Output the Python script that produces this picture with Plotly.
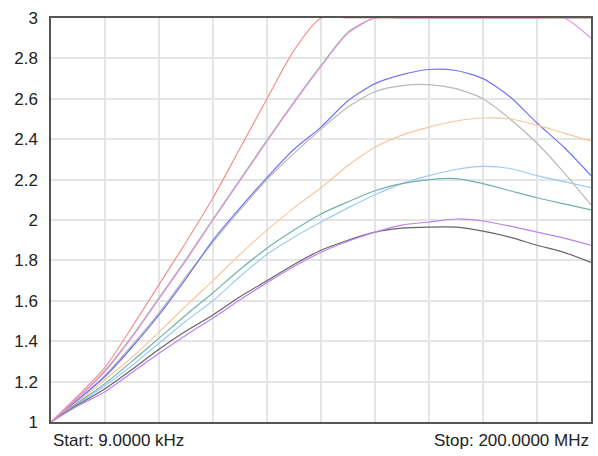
import plotly.graph_objects as go

# Sweep position in grid divisions (0 = 9 kHz start, 10 = 200 MHz stop)
sweep_div = [0, 0.5, 1, 1.5, 2, 2.5, 3, 3.5, 4, 4.5, 5, 5.5, 6, 6.5, 7, 7.5, 8, 8.5, 9, 9.5, 10]

red_vals    = [1.0, 1.13, 1.27, 1.47, 1.68, 1.89, 2.11, 2.355, 2.6, 2.84, 3.0, 3.0, 3.0, 3.0, 3.0, 3.0, 3.0, 3.0, 3.0, 3.0, 3.0]
green_vals  = [1.0, 1.12, 1.255, 1.425, 1.615, 1.805, 2.005, 2.2, 2.395, 2.585, 2.765, 2.93, 3.0, 3.0, 3.0, 3.0, 3.0, 3.0, 3.0, 3.0, 3.0]
pink_vals   = [1.0, 1.12, 1.25, 1.42, 1.61, 1.80, 2.0, 2.195, 2.39, 2.58, 2.76, 2.925, 3.0, 3.0, 3.0, 3.0, 3.0, 3.0, 3.0, 3.0, 2.9]
blue_vals   = [1.0, 1.11, 1.225, 1.37, 1.53, 1.71, 1.90, 2.06, 2.21, 2.35, 2.46, 2.59, 2.675, 2.72, 2.745, 2.74, 2.70, 2.61, 2.48, 2.36, 2.22]
gray_vals   = [1.0, 1.11, 1.23, 1.38, 1.54, 1.72, 1.89, 2.05, 2.20, 2.33, 2.45, 2.56, 2.635, 2.665, 2.67, 2.65, 2.60, 2.50, 2.38, 2.235, 2.075]
orange_vals = [1.0, 1.10, 1.21, 1.32, 1.445, 1.575, 1.70, 1.83, 1.95, 2.06, 2.16, 2.27, 2.36, 2.42, 2.46, 2.49, 2.505, 2.50, 2.47, 2.43, 2.39]
teal_vals   = [1.0, 1.095, 1.19, 1.30, 1.415, 1.53, 1.64, 1.755, 1.86, 1.95, 2.03, 2.09, 2.145, 2.18, 2.20, 2.205, 2.18, 2.145, 2.11, 2.08, 2.05]
ltblue_vals = [1.0, 1.09, 1.18, 1.28, 1.39, 1.50, 1.60, 1.72, 1.83, 1.915, 1.99, 2.06, 2.125, 2.18, 2.22, 2.25, 2.265, 2.255, 2.22, 2.19, 2.16]
black_vals  = [1.0, 1.085, 1.165, 1.26, 1.36, 1.45, 1.53, 1.62, 1.70, 1.78, 1.85, 1.90, 1.94, 1.96, 1.965, 1.965, 1.945, 1.915, 1.875, 1.84, 1.79]
purple_vals = [1.0, 1.08, 1.15, 1.245, 1.34, 1.43, 1.515, 1.605, 1.69, 1.77, 1.84, 1.895, 1.94, 1.975, 1.99, 2.005, 1.995, 1.97, 1.94, 1.91, 1.875]

y_ticks = [1, 1.2, 1.4, 1.6, 1.8, 2, 2.2, 2.4, 2.6, 2.8, 3]
y_tick_labels = ["1", "1.2", "1.4", "1.6", "1.8", "2", "2.2", "2.4", "2.6", "2.8", "3"]
start_label = "Start: 9.0000 kHz"
stop_label = "Stop: 200.0000 MHz"

series = [
    ("green", green_vals, "#7fd08a"),
    ("gray", gray_vals, "#b9b9b9"),
    ("blue", blue_vals, "#7474f4"),
    ("orange", orange_vals, "#f8c79c"),
    ("ltblue", ltblue_vals, "#9ccbf4"),
    ("teal", teal_vals, "#6fb3ab"),
    ("black", black_vals, "#666666"),
    ("purple", purple_vals, "#b884f0"),
    ("pink", pink_vals, "#f08ae8"),
    ("red", red_vals, "#f29090"),
]

fig = go.Figure()
for name, vals, color in series:
    fig.add_trace(go.Scatter(
        x=sweep_div, y=vals, mode="lines", name=name,
        line=dict(color=color, width=1.2, shape="spline", smoothing=0.7),
        showlegend=False, hoverinfo="skip",
    ))

fig.update_layout(
    width=598, height=456,
    margin=dict(l=51, r=7, t=18, b=34, autoexpand=False),
    paper_bgcolor="white", plot_bgcolor="white",
    font=dict(family="Liberation Sans, Arial, sans-serif", size=17, color="#222222"),
    showlegend=False,
)
fig.update_xaxes(
    range=[0, 10], tickmode="array", tickvals=list(range(11)), showticklabels=False,
    showgrid=True, gridcolor="#e4e4e4", gridwidth=1.5, zeroline=False,
    showline=True, linecolor="#555555", linewidth=1.5, mirror=True, ticks="",
    layer="below traces", automargin=False,
)
fig.update_yaxes(
    range=[1, 3], tickmode="array", tickvals=y_ticks, ticktext=y_tick_labels,
    showgrid=True, gridcolor="#e4e4e4", gridwidth=1.5, zeroline=False,
    showline=True, linecolor="#555555", linewidth=1.5, mirror=True, ticks="",
    ticklabelstandoff=8, layer="below traces", automargin=False,
)
fig.add_annotation(text=start_label, xref="paper", yref="paper", x=0.0, y=0, yshift=-18,
                   xanchor="left", yanchor="middle", showarrow=False,
                   font=dict(size=17, color="#222222"))
fig.add_annotation(text=stop_label, xref="paper", yref="paper", x=1.0, y=0, yshift=-18,
                   xanchor="right", yanchor="middle", showarrow=False,
                   font=dict(size=17, color="#222222"))

fig.write_html(
    "out.html",
    config={"displayModeBar": False},
    post_script="document.body.style.margin='0';document.body.style.overflow='hidden';",
)
